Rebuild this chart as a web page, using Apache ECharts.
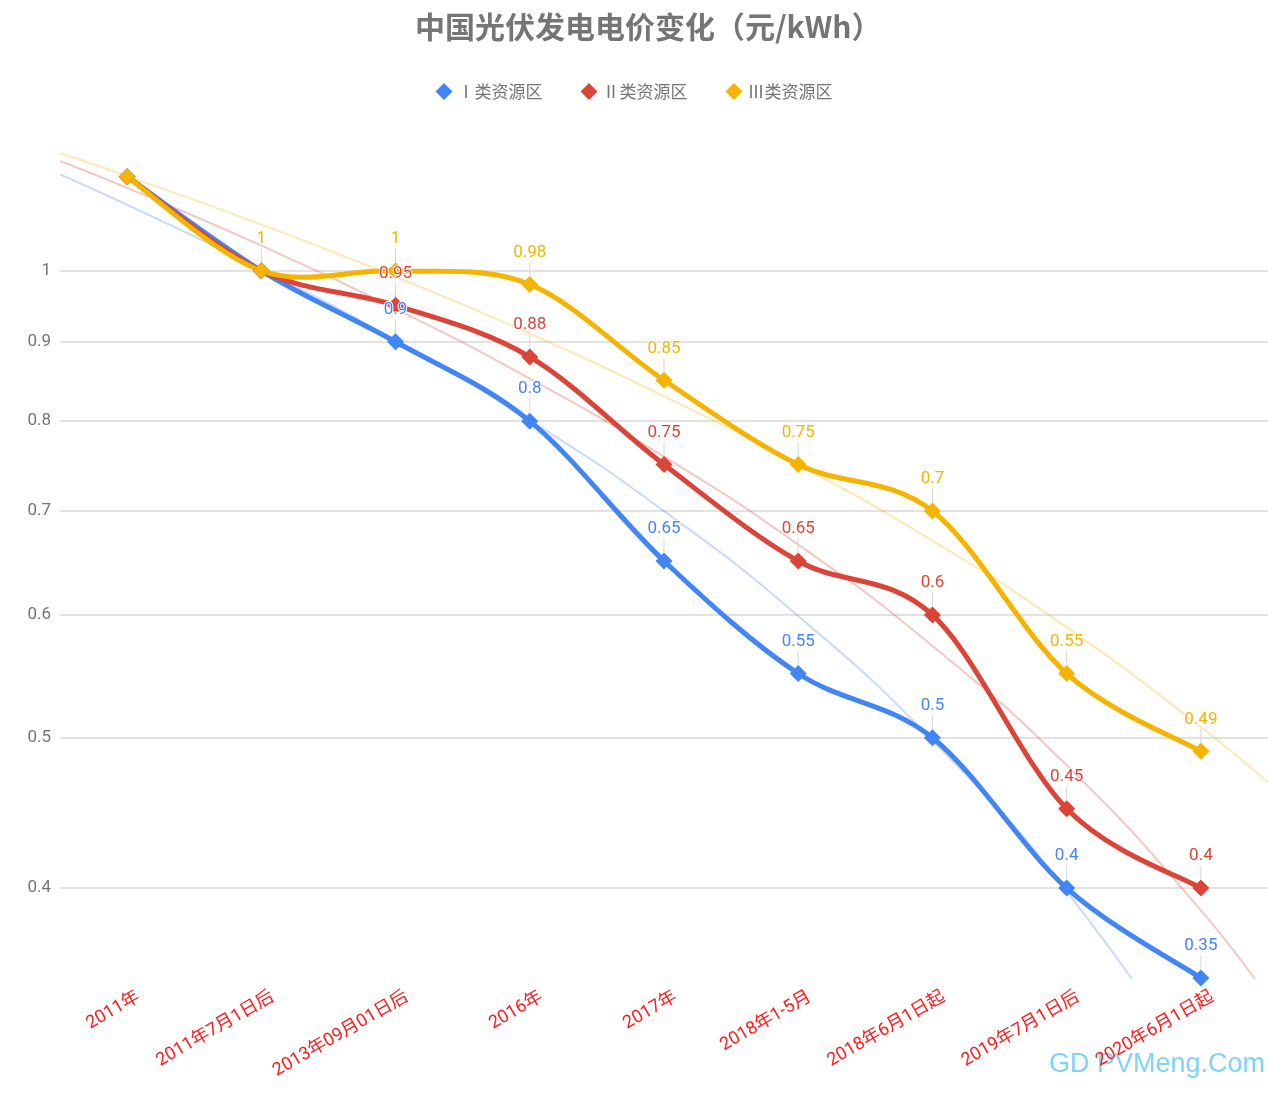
<!DOCTYPE html>
<html>
<head>
<meta charset="utf-8">
<script src="https://cdn.jsdelivr.net/npm/echarts@6/dist/echarts.min.js"></script>
<style>html,body{margin:0;padding:0;background:#fff}#main{width:1268px;height:1094px}</style>
</head>
<body>
<div id="main"></div>
<script>
const categories = ['2011年','2011年7月1日后','2013年09月01日后','2016年','2017年','2018年1-5月','2018年6月1日起','2019年7月1日后','2020年6月1日起'];
const seriesNames = ['Ⅰ类资源区','Ⅱ类资源区','Ⅲ类资源区'];
const class1 = [1.15, 1, 0.9, 0.8, 0.65, 0.55, 0.5, 0.4, 0.35];
const class2 = [1.15, 1, 0.95, 0.88, 0.75, 0.65, 0.6, 0.45, 0.4];
const class3 = [1.15, 1, 1, 0.98, 0.85, 0.75, 0.7, 0.55, 0.49];
// trend lines, at positions trendX (category index units)
const trendX = [-0.5, 0, 1, 2, 3, 4, 5, 6, 7, 8, 8.5];
const trend1 = [1.154, 1.103, 1.002, 0.902, 0.801, 0.700, 0.599, 0.498, 0.398, 0.297, 0.246];
const trend2 = [1.177, 1.131, 1.038, 0.945, 0.852, 0.759, 0.666, 0.573, 0.480, 0.387, 0.340];
const trend3 = [1.191, 1.151, 1.071, 0.991, 0.911, 0.830, 0.750, 0.670, 0.589, 0.508, 0.468];
const yTicks = [0.4, 0.5, 0.6, 0.7, 0.8, 0.9, 1];
const labelFrom = [2, 2, 1];
const colors = ['#4285F4', '#DB4437', '#F4B400'];
const trendColors = ['rgba(66,133,244,0.3)', 'rgba(219,68,55,0.3)', 'rgba(244,180,0,0.3)'];

const FONT = 'Roboto, "Noto Sans CJK SC", sans-serif';
const CJK = '"Noto Sans CJK SC", sans-serif';
const chart = echarts.init(document.getElementById('main'));
const mainData = [class1, class2, class3];
const trendData = [trend1, trend2, trend3];

// Catmull-Rom curve through the pixel positions given by the axes
function curvePath(pts) {
  let d = 'M' + pts[0][0] + ' ' + pts[0][1];
  for (let i = 0; i < pts.length - 1; i++) {
    const p0 = pts[Math.max(i - 1, 0)], p1 = pts[i], p2 = pts[i + 1], p3 = pts[Math.min(i + 2, pts.length - 1)];
    const c1x = p1[0] + (p2[0] - p0[0]) / 6, c1y = p1[1] + (p2[1] - p0[1]) / 6;
    const c2x = p2[0] - (p3[0] - p1[0]) / 6, c2y = p2[1] - (p3[1] - p1[1]) / 6;
    d += ' C' + c1x + ' ' + c1y + ' ' + c2x + ' ' + c2y + ' ' + p2[0] + ' ' + p2[1];
  }
  return d;
}

const series = [];
trendData.forEach((t, k) => {
  series.push({
    type: 'line', xAxisIndex: 1, smooth: true, symbol: 'none', silent: true,
    data: t.map((v, i) => [trendX[i], v]),
    lineStyle: { color: trendColors[k], width: 2 },
    z: 1
  });
});
mainData.forEach((d, k) => {
  series.push({
    type: 'custom', silent: true, z: 2,
    data: d.map((v, i) => [i, v]),
    renderItem: (params, api) => {
      if (params.dataIndex !== 0) return null;
      const pts = d.map((v, i) => api.coord([i, v]));
      return {
        type: 'path',
        shape: { pathData: curvePath(pts) },
        style: { stroke: colors[k], lineWidth: 5, fill: null, lineJoin: 'round', lineCap: 'round' }
      };
    }
  });
  series.push({
    name: seriesNames[k], type: 'line',
    symbol: 'diamond', symbolSize: 17,
    itemStyle: { color: colors[k] },
    lineStyle: { color: colors[k], width: 0, opacity: 0 },
    data: d.map((v, i) => ({ value: v, label: { show: i >= labelFrom[k] } })),
    label: {
      show: true, position: 'top', distance: 5,
      color: colors[k], fontSize: 17, fontFamily: FONT,
      textBorderColor: '#fff', textBorderWidth: 2
    },
    labelLayout: { dy: -10 },
    labelLine: { show: true, lineStyle: { color: '#d6d6d6', width: 1 } },
    z: 3
  });
});

chart.setOption({
  animation: false,
  color: colors,
  title: {
    text: '中国光伏发电电价变化（元/kWh）', left: 410, top: 7,
    textStyle: { color: '#757575', fontSize: 30, fontWeight: 'bold', fontFamily: CJK }
  },
  legend: {
    data: seriesNames.map(n => ({ name: n, icon: 'diamond', itemStyle: { color: colors[seriesNames.indexOf(n)] } })),
    top: 78, left: 'center', itemWidth: 17, itemHeight: 17, itemGap: 38,
    textStyle: { color: '#757575', fontSize: 17, fontFamily: CJK }
  },
  grid: { left: 60, right: 0, top: 148, bottom: 116 },
  xAxis: [{
    type: 'category', data: categories, boundaryGap: true,
    axisLine: { show: false }, axisTick: { show: false },
    axisLabel: { interval: 0, rotate: 30, color: '#ff1a1a', fontSize: 18, margin: -2,
      verticalAlign: 'top', padding: [14, 0, 0, 0], fontFamily: FONT }
  }, {
    type: 'value', min: -0.5, max: 8.5, show: false
  }],
  yAxis: {
    type: 'log', logBase: 10, min: 0.35, max: 1.2,
    axisLine: { show: false },
    axisTick: { show: false, customValues: yTicks },
    axisLabel: { customValues: yTicks, color: '#757575', fontSize: 17, margin: 9, fontFamily: FONT,
      formatter: v => String(+(+v).toFixed(2)) },
    splitLine: { show: true, lineStyle: { color: '#d9d9d9', width: 1.5 } }
  },
  graphic: [{
    type: 'text', right: 3, bottom: 16,
    style: { text: 'GD PVMeng.Com', fill: '#7fd3f7', font: '27px "Liberation Sans", Arial, sans-serif' }
  }],
  series: series
});
</script>
</body>
</html>
